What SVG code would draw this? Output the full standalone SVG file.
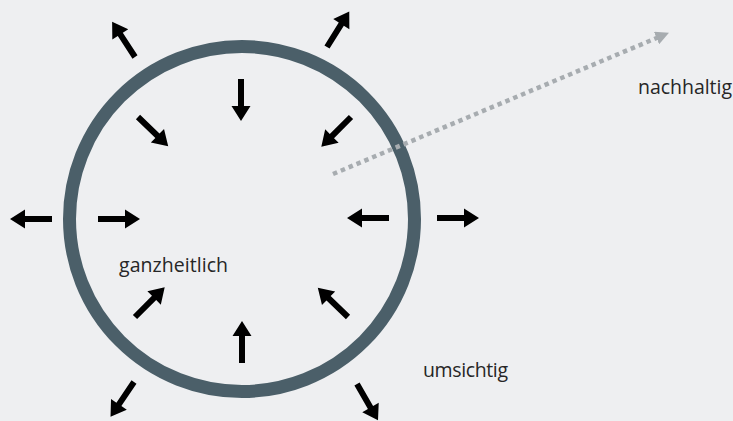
<svg xmlns="http://www.w3.org/2000/svg" width="733" height="421" viewBox="0 0 733 421">
  <defs>
    <!-- short black arrow pointing along +x, tail at origin, length 42 -->
    <path id="arr" d="M0,-3 L27,-3 L27,-9.5 L42,0 L27,9.5 L27,3 L0,3 Z"/>
    <marker id="dothead" viewBox="0 0 10 10" refX="2" refY="5" markerWidth="3" markerHeight="3" orient="auto" markerUnits="strokeWidth">
      <path d="M0,0 L10,5 L0,10 Z" fill="#a7acb0"/>
    </marker>
  </defs>
  <style>
    .lbl { font-family: "Open Sans", "Liberation Sans", sans-serif; font-size: 19.5px; fill: #262626; }
    .a { fill: #000; }
  </style>
  <rect width="733" height="421" fill="#eeeff1"/>

  <g id="ring">
    <circle cx="242" cy="219" r="172.5" fill="none" stroke="#4b5f69" stroke-width="13"/>
  </g>

  <g id="connectors">
    <!-- inward arrows -->
    <use href="#arr" class="a" transform="translate(241,79) rotate(90)"/>
    <use href="#arr" class="a" transform="translate(98,219) rotate(0)"/>
    <use href="#arr" class="a" transform="translate(389,218) rotate(180)"/>
    <use href="#arr" class="a" transform="translate(242,363) rotate(-90)"/>
    <use href="#arr" class="a" transform="translate(138,117) rotate(44)"/>
    <use href="#arr" class="a" transform="translate(351,117) rotate(135)"/>
    <use href="#arr" class="a" transform="translate(135,317) rotate(-45)"/>
    <use href="#arr" class="a" transform="translate(348,317) rotate(-136)"/>
    <!-- outward arrows -->
    <use href="#arr" class="a" transform="translate(52,219) rotate(180)"/>
    <use href="#arr" class="a" transform="translate(437,218) rotate(0)"/>
    <use href="#arr" class="a" transform="translate(135,57) rotate(-123)"/>
    <use href="#arr" class="a" transform="translate(327,47) rotate(-58)"/>
    <use href="#arr" class="a" transform="translate(134,382) rotate(124)"/>
    <use href="#arr" class="a" transform="translate(357,384) rotate(60)"/>
    <!-- dotted arrow -->
    <line x1="333" y1="174" x2="659" y2="37" stroke="#a7acb0" stroke-width="4.5" stroke-dasharray="4.5 4" marker-end="url(#dothead)"/>
  </g>

  <g id="labels">
    <text class="lbl" x="638" y="94" textLength="94">nachhaltig</text>
    <text class="lbl" x="119" y="272" textLength="109">ganzheitlich</text>
    <text class="lbl" x="423" y="377" textLength="85">umsichtig</text>
  </g>
</svg>
